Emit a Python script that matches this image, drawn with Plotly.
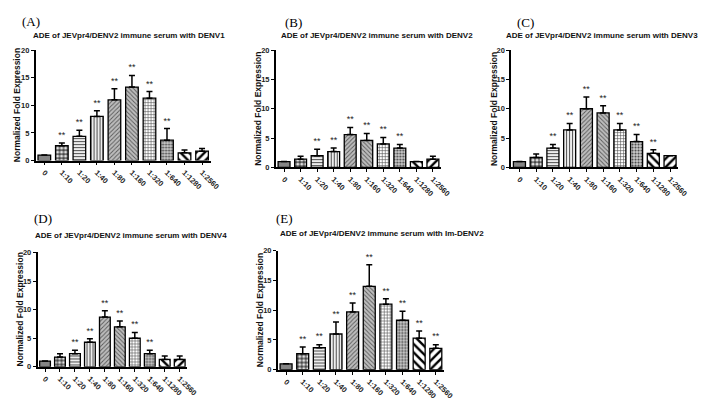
import plotly.graph_objects as go

categories = ["0", "1:10", "1:20", "1:40", "1:80", "1:160", "1:320", "1:640", "1:1280", "1:2560"]

denv1_mean = [1.0, 2.7, 4.4, 8.0, 11.0, 13.3, 11.3, 3.7, 1.4, 1.7]
denv1_err = [0.0, 0.5, 1.1, 1.0, 2.0, 2.1, 1.2, 2.1, 0.5, 0.5]
denv1_sig = ["", "**", "**", "**", "**", "**", "**", "**", "", ""]

denv2_mean = [1.0, 1.4, 2.0, 2.7, 5.6, 4.6, 4.0, 3.3, 1.0, 1.4]
denv2_err = [0.0, 0.5, 1.1, 0.6, 1.2, 1.2, 1.1, 0.6, 0.0, 0.5]
denv2_sig = ["", "", "**", "**", "**", "**", "**", "**", "", ""]

denv3_mean = [1.0, 1.7, 3.3, 6.4, 10.0, 9.3, 6.4, 4.4, 2.4, 2.0]
denv3_err = [0.0, 0.6, 0.6, 1.1, 2.0, 1.2, 1.1, 1.2, 0.6, 0.0]
denv3_sig = ["", "", "**", "**", "**", "**", "**", "**", "**", ""]

denv4_mean = [1.0, 1.7, 2.3, 4.3, 8.7, 7.0, 5.0, 2.3, 1.3, 1.3]
denv4_err = [0.0, 0.6, 0.6, 0.6, 1.1, 1.0, 1.0, 0.6, 0.6, 0.6]
denv4_sig = ["", "", "**", "**", "**", "**", "**", "**", "", ""]

imdenv2_mean = [1.0, 2.7, 3.7, 6.0, 9.7, 14.0, 11.0, 8.3, 5.3, 3.6]
imdenv2_err = [0.0, 1.1, 0.5, 2.0, 1.5, 3.6, 0.9, 1.5, 1.2, 0.6]
imdenv2_sig = ["", "**", "**", "**", "**", "**", "**", "**", "**", "**"]

titles = [
    "ADE of JEVpr4/DENV2 immune serum with DENV1",
    "ADE of JEVpr4/DENV2 immune serum with DENV2",
    "ADE of JEVpr4/DENV2 immune serum with DENV3",
    "ADE of JEVpr4/DENV2 immune serum with DENV4",
    "ADE of JEVpr4/DENV2 immune serum with Im-DENV2",
]
panel_labels = ["(A)", "(B)", "(C)", "(D)", "(E)"]
y_title = "Normalized Fold Expression"
y_ticks = [0, 5, 10, 15, 20]

# styling (per dilution)
base_color = "#858585"
pat_shape = ["", ".", "-", "|", "/", "\\", "+", ".", "\\", "/"]
pat_bg = ["#858585", "#444444", "white", "white", "#bdbdbd", "#bdbdbd", "white", "#d0d0d0", "white", "white"]
pat_fg = ["#858585", "#e0e0e0", "#505050", "#505050", "#5a5a5a", "#5a5a5a", "#505050", "#404040", "black", "black"]
pat_size = [4, 4, 3, 3, 3, 3, 3, 3, 6, 6]
pat_sol = [0.3, 0.5, 0.4, 0.4, 0.3, 0.3, 0.35, 0.4, 0.4, 0.4]

W, H = 709, 400
# panel boxes in pixels: (x0, x1, ytop, ybottom)
boxes = [
    (28, 206, 39, 152),
    (272, 440, 39, 159),
    (511, 681, 39, 159),
    (30, 182, 246, 363),
    (274, 443, 244, 366),
]
title_pos = [(123, 24, "center"), (375, 24, "center"), (703, 24, "right"), (125, 229, "center"), (380, 227, "center")]
label_pos = [(23, 10), (290, 11), (526, 11), (36, 211), (281, 211)]

series = [
    (denv1_mean, denv1_err, denv1_sig),
    (denv2_mean, denv2_err, denv2_sig),
    (denv3_mean, denv3_err, denv3_sig),
    (denv4_mean, denv4_err, denv4_sig),
    (imdenv2_mean, imdenv2_err, imdenv2_sig),
]

FONT = "Liberation Sans"
fig = go.Figure()
annotations = []
layout_axes = {}

for i, ((mean, err, sig), (x0, x1, yt, yb)) in enumerate(zip(series, boxes)):
    n = "" if i == 0 else str(i + 1)
    xa, ya = "x" + n, "y" + n
    fig.add_trace(go.Bar(
        x=categories, y=mean, xaxis=xa, yaxis=ya, width=0.72,
        marker=dict(
            color=base_color,
            line=dict(color="black", width=1.3),
            pattern=dict(shape=pat_shape, bgcolor=pat_bg, fgcolor=pat_fg,
                         size=pat_size, solidity=pat_sol, fillmode="replace"),
        ),
        error_y=dict(type="data", symmetric=False, array=err,
                     arrayminus=[0] * len(err), color="black", thickness=1.5, width=3),
        showlegend=False, hoverinfo="skip",
    ))
    star_y = [m + e + 0.5 for m, e in zip(mean, err)]
    fig.add_trace(go.Scatter(
        x=categories, y=star_y, xaxis=xa, yaxis=ya, mode="text", text=sig,
        textposition="top center",
        textfont=dict(family=FONT, size=9, color="#222"),
        showlegend=False, hoverinfo="skip",
    ))
    layout_axes["xaxis" + n] = dict(
        domain=[x0 / W, x1 / W], anchor=ya, type="category",
        range=[-0.5, 9.5], showline=True, linecolor="black", linewidth=1.5,
        ticks="outside", ticklen=3, tickwidth=1, tickcolor="black",
        tickangle=45, tickfont=dict(family=FONT, size=7.5, color="#222", weight="bold"),
        showgrid=False, zeroline=False, fixedrange=True,
    )
    layout_axes["yaxis" + n] = dict(
        domain=[1 - yb / H, 1 - yt / H], anchor=xa,
        range=[0, 20], tickvals=y_ticks, showline=True, linecolor="black",
        linewidth=1.5, ticks="outside", ticklen=3, tickwidth=1, tickcolor="black",
        tickfont=dict(family=FONT, size=7.5, color="#222", weight="bold"),
        showgrid=False, zeroline=False, fixedrange=True,
    )
    tx, ty, anc = title_pos[i]
    annotations.append(dict(
        x=tx / W, y=1 - ty / H, xref="paper", yref="paper", showarrow=False,
        text="<b>" + titles[i] + "</b>", xanchor=anc, yanchor="middle",
        font=dict(family=FONT, size=8, color="#111"),
    ))
    lx, ly = label_pos[i]
    annotations.append(dict(
        x=lx / W, y=1 - ly / H, xref="paper", yref="paper", showarrow=False,
        text=panel_labels[i], xanchor="center", yanchor="middle",
        font=dict(family="Liberation Serif", size=13, color="black"),
    ))
    annotations.append(dict(
        x=(x0 - 18) / W, y=1 - (yt + yb) / 2 / H, xref="paper", yref="paper",
        showarrow=False, text="<b>" + y_title + "</b>", textangle=-90,
        xanchor="center", yanchor="middle",
        font=dict(family=FONT, size=8.5, color="#111"),
    ))

fig.update_layout(
    width=W, height=H, margin=dict(l=0, r=0, t=0, b=0),
    paper_bgcolor="white", plot_bgcolor="white",
    annotations=annotations, bargap=0.2, **layout_axes,
)

fig.write_html("out.html")
